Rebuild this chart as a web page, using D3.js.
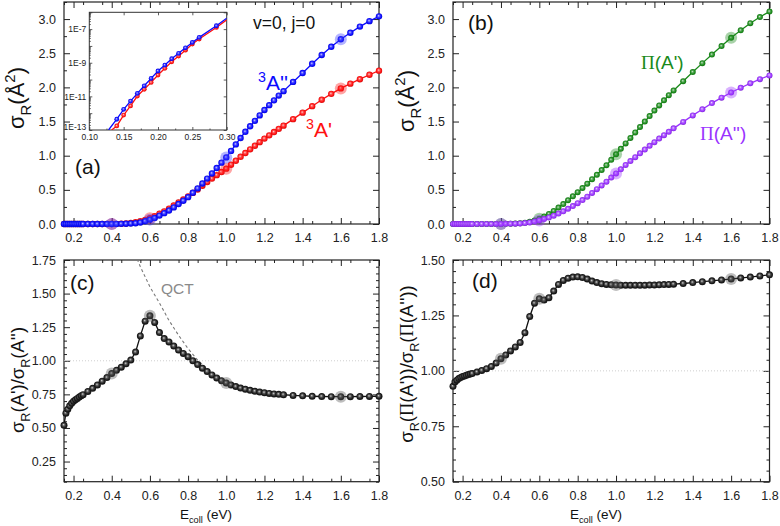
<!DOCTYPE html>
<html><head><meta charset="utf-8">
<script src="https://cdn.jsdelivr.net/npm/d3@7"></script>
<style>
body{margin:0;background:#fff}
svg{display:block}
text{font-family:Arial,"Liberation Sans",sans-serif}
</style>
</head><body>
<svg id="c" width="780" height="526"></svg>
<script>
// ---------------- data ----------------
const energy = [0.15,0.16,0.17,0.18,0.19,0.20,0.21,0.22,0.23,0.24,0.25,
  0.275,0.30,0.325,0.35,0.375,
  0.40,0.425,0.45,0.475, 0.50,0.525,0.55,0.575, 0.60,0.625,0.65,0.675,
  0.70,0.725,0.75,0.775, 0.80,0.825,0.85,0.875, 0.90,0.925,0.95,0.975,
  1.00,1.025,1.05,1.075, 1.10,1.125,1.15,1.175, 1.20,1.225,1.25,1.275,
  1.30,
  1.35,1.40,1.45,1.50,1.55,1.60,1.65,1.70,1.75,1.80];

// (a) 3A'' (blue)
const sigma3App = [0,0,0,0,0,0,0,0,0,0,0, 0,0,0,0,0,
  0.0005,0.001,0.002,0.004, 0.007,0.012,0.022,0.04, 0.064,0.089,0.123,0.159,
  0.197,0.243,0.292,0.341, 0.393,0.457,0.521,0.593, 0.665,0.74,0.82,0.898,
  0.975,1.07,1.165,1.26, 1.35,1.43,1.51,1.59, 1.67,1.74,1.81,1.88,
  1.945,
  2.08,2.21,2.345,2.475,2.595,2.705,2.80,2.89,2.97,3.04];
// (a) 3A' (red)
const sigma3Ap = [0,0,0,0,0,0,0,0,0,0,0, 0,0,0,0,0,
  0.001,0.002,0.004,0.008, 0.015,0.025,0.04,0.06, 0.085,0.115,0.15,0.185,
  0.225,0.27,0.315,0.36, 0.405,0.455,0.505,0.56, 0.615,0.665,0.715,0.762,
  0.81,0.868,0.926,0.984, 1.04,1.093,1.146,1.198, 1.25,1.298,1.346,1.393,
  1.44,
  1.535,1.63,1.725,1.82,1.905,1.985,2.055,2.12,2.185,2.245];
// (b) Pi(A') (green)
const sigmaPiAp = [0,0,0,0,0,0,0,0,0,0,0, 0,0,0,0,0,
  0.001,0.002,0.004,0.007, 0.012,0.02,0.033,0.052, 0.078,0.11,0.148,0.192,
  0.24,0.292,0.347,0.405, 0.465,0.527,0.59,0.655, 0.72,0.79,0.86,0.94,
  1.02,1.10,1.18,1.26, 1.34,1.42,1.50,1.58, 1.66,1.735,1.81,1.885,
  1.955,
  2.09,2.225,2.355,2.48,2.605,2.725,2.835,2.94,3.03,3.11];
// (b) Pi(A'') (purple)
const sigmaPiApp = [0,0,0,0,0,0,0,0,0,0,0, 0,0,0,0,0,
  0.001,0.002,0.003,0.005, 0.008,0.013,0.022,0.035, 0.052,0.072,0.095,0.122,
  0.152,0.185,0.222,0.262, 0.305,0.35,0.40,0.455, 0.51,0.565,0.62,0.68,
  0.74,0.80,0.865,0.922, 0.978,1.035,1.09,1.145, 1.198,1.25,1.30,1.35,
  1.40,
  1.495,1.59,1.68,1.77,1.85,1.925,1.995,2.06,2.12,2.175];
// (c) ratio A'/A''
const ratioA = [0.52,0.61,0.64,0.665,0.683,0.698,0.71,0.72,0.73,0.74,0.748,
  0.772,0.795,0.82,0.848,0.875,
  0.905,0.93,0.952,0.977, 1.005,1.065,1.185,1.295, 1.335,1.285,1.21,1.165,
  1.14,1.11,1.08,1.055, 1.03,1.0,0.972,0.945, 0.92,0.895,0.872,0.852,
  0.835,0.82,0.808,0.797, 0.788,0.78,0.773,0.767, 0.762,0.757,0.753,0.75,
  0.747,
  0.742,0.739,0.736,0.734,0.733,0.733,0.733,0.734,0.735,0.736];
// (d) ratio Pi(A')/Pi(A'')
const ratioPi = [0.93,0.95,0.958,0.965,0.97,0.974,0.977,0.98,0.983,0.986,0.988,
  0.995,1.002,1.01,1.02,1.035,
  1.055,1.072,1.09,1.108, 1.128,1.172,1.245,1.305, 1.325,1.32,1.33,1.36,
  1.39,1.408,1.418,1.423, 1.424,1.421,1.414,1.405, 1.398,1.393,1.39,1.388,
  1.387,1.386,1.386,1.386, 1.386,1.386,1.386,1.387, 1.387,1.388,1.389,1.39,
  1.391,
  1.394,1.398,1.402,1.406,1.41,1.414,1.419,1.423,1.428,1.433];
// highlighted energies
const highlightE = [0.4, 0.6, 1.0, 1.6];
// QCT ratio (c)
const qctEnergy = [0.50,0.55,0.60,0.65,0.70,0.75,0.80,0.85,0.90,0.95];
const qctRatio  = [1.87,1.70,1.55,1.43,1.30,1.19,1.09,1.005,0.94,0.885];
// inset (log10 of cross section); first and last entries are line ends
const insetE3App   = [0.128,0.14,0.15,0.16,0.17,0.18,0.19,0.20,0.21,0.22,0.23,0.24,0.25,0.26,0.285,0.30];
const insetLog3App = [-13,-12.36,-11.77,-11.28,-10.82,-10.37,-9.93,-9.49,-9.14,-8.76,-8.44,-8.11,-7.79,-7.49,-6.80,-6.35];
const insetE3Ap    = [0.1325,0.14,0.15,0.16,0.17,0.18,0.19,0.20,0.21,0.22,0.23,0.24,0.25,0.26,0.285,0.30];
const insetLog3Ap  = [-13,-12.76,-12.11,-11.57,-10.98,-10.58,-10.17,-9.73,-9.33,-8.94,-8.60,-8.25,-7.89,-7.59,-6.90,-6.45];
// tick values
const xMajorTicks = [0.2,0.4,0.6,0.8,1.0,1.2,1.4,1.6,1.8];
const yTicksAB = [0,0.5,1.0,1.5,2.0,2.5,3.0];
const yTicksC = [0.25,0.50,0.75,1.00,1.25,1.50,1.75];
const yTicksD = [0.50,0.75,1.00,1.25,1.50];
const insetXTicks = [0.10,0.15,0.20,0.25,0.30];
const insetYLabelExp = [-13,-11,-9,-7];

// ---------------- drawing ----------------
const svg = d3.select('#c');
const defs = svg.append('defs');
const FONT = 'Arial, "Liberation Sans", sans-serif';

function sphere(id, base) {
  const g = defs.append('radialGradient').attr('id', id)
    .attr('cx','50%').attr('cy','50%').attr('r','55%').attr('fx','42%').attr('fy','40%');
  g.append('stop').attr('offset','0%').attr('stop-color', d3.interpolateRgb(base,'#ffffff')(0.8));
  g.append('stop').attr('offset','35%').attr('stop-color', d3.interpolateRgb(base,'#ffffff')(0.25));
  g.append('stop').attr('offset','70%').attr('stop-color', base);
  g.append('stop').attr('offset','100%').attr('stop-color', d3.color(base).darker(0.7).formatHex());
}
const BLUE='#0a0aff', RED='#ff1010', GREEN='#1a8a1a', PURPLE='#9a33ff', BLACK='#111111';
sphere('gBlue', BLUE); sphere('gRed', RED); sphere('gGreen', GREEN); sphere('gPurple', PURPLE);
sphere('gBlack', '#1a1a1a');

function rich(sel, parts, fs) {
  let off = 0;
  parts.forEach(([t, kind, fam]) => {
    const target = kind === 'sub' ? fs*0.3 : kind === 'sup' ? -fs*0.4 : 0;
    const ts = sel.append('tspan').text(t).attr('dy', target - off);
    if (kind) ts.attr('font-size', fs*0.68);
    if (fam) ts.attr('font-family', fam);
    off = target;
  });
}

const panels = {
  a:{x0:64, x1:379, y0:2, y1:224, yd:[0,3.25], yt:yTicksAB, ym:0.25, yf:'.1f', xm:0.1},
  b:{x0:453, x1:769.5, y0:2, y1:224, yd:[0,3.25], yt:yTicksAB, ym:0.25, yf:'.1f', xm:0.1},
  c:{x0:64, x1:379, y0:260, y1:481.7, yd:[0.1,1.75], yt:yTicksC, ym:0.05, yf:'.2f', xm:0.1},
  d:{x0:453, x1:769.5, y0:260, y1:481.7, yd:[0.5,1.5], yt:yTicksD, ym:0.05, yf:'.2f', xm:0.05}
};

function buildPanel(key) {
  const p = panels[key];
  const x = d3.scaleLinear().domain([0.15,1.8]).range([p.x0,p.x1]);
  const y = d3.scaleLinear().domain(p.yd).range([p.y1,p.y0]);
  const g = svg.append('g');
  defs.append('clipPath').attr('id','clip'+key).append('rect')
    .attr('x',p.x0).attr('y',p.y0).attr('width',p.x1-p.x0).attr('height',p.y1-p.y0);
  const eps = 1e-6;
  const xMinor = d3.range(0.15, 1.8+eps, p.xm).map(v=>+v.toFixed(3))
    .filter(v => !xMajorTicks.some(m=>Math.abs(m-v)<eps));
  const yMinor = d3.range(p.yd[0], p.yd[1]+eps, p.ym).map(v=>+v.toFixed(3))
    .filter(v => !p.yt.some(m=>Math.abs(m-v)<eps));
  const axes = [
    [d3.axisBottom(x).tickValues(xMajorTicks).tickFormat(d3.format('.1f')).tickSizeInner(-6).tickSizeOuter(0).tickPadding(9), `translate(0,${p.y1})`],
    [d3.axisBottom(x).tickValues(xMinor).tickFormat('').tickSizeInner(-3).tickSizeOuter(0), `translate(0,${p.y1})`],
    [d3.axisTop(x).tickValues(xMajorTicks).tickFormat('').tickSizeInner(-6).tickSizeOuter(0), `translate(0,${p.y0})`],
    [d3.axisTop(x).tickValues(xMinor).tickFormat('').tickSizeInner(-3).tickSizeOuter(0), `translate(0,${p.y0})`],
    [d3.axisLeft(y).tickValues(p.yt).tickFormat(d3.format(p.yf)).tickSizeInner(-6).tickSizeOuter(0).tickPadding(8), `translate(${p.x0},0)`],
    [d3.axisLeft(y).tickValues(yMinor).tickFormat('').tickSizeInner(-3).tickSizeOuter(0), `translate(${p.x0},0)`],
    [d3.axisRight(y).tickValues(p.yt).tickFormat('').tickSizeInner(-6).tickSizeOuter(0), `translate(${p.x1},0)`],
    [d3.axisRight(y).tickValues(yMinor).tickFormat('').tickSizeInner(-3).tickSizeOuter(0), `translate(${p.x1},0)`]
  ];
  axes.forEach(([ax, tr]) => {
    const a = g.append('g').attr('transform', tr).call(ax);
    a.select('.domain').remove();
    a.selectAll('line').attr('stroke','#222').attr('stroke-width',1);
    a.selectAll('text').attr('font-family',FONT).attr('font-size',12.5).attr('fill','#222');
  });
  g.append('rect').attr('x',p.x0).attr('y',p.y0).attr('width',p.x1-p.x0).attr('height',p.y1-p.y0)
    .attr('fill','none').attr('stroke','#222').attr('stroke-width',1.2);
  return {g, x, y, p};
}

function drawSeries(P, xs, ys, color, grad, r, hlColor) {
  const pts = xs.map((e,i)=>[e, ys[i]]);
  const line = d3.line().x(d=>P.x(d[0])).y(d=>P.y(d[1]));
  P.g.append('path').datum(pts).attr('d', line).attr('fill','none')
    .attr('stroke', color).attr('stroke-width', 1.3);
  P.g.append('g').selectAll('circle').data(pts).join('circle')
    .attr('cx', d=>P.x(d[0])).attr('cy', d=>P.y(d[1])).attr('r', r)
    .attr('fill', `url(#${grad})`);
  const hl = pts.filter(d => highlightE.some(h=>Math.abs(h-d[0])<1e-6));
  P.g.append('g').selectAll('circle').data(hl).join('circle')
    .attr('cx', d=>P.x(d[0])).attr('cy', d=>P.y(d[1])).attr('r', 6)
    .attr('fill', hlColor).attr('fill-opacity', 0.38);
}

// ----- panel a -----
const A = buildPanel('a');
drawSeries(A, energy, sigma3Ap, RED, 'gRed', 3.2, RED);
drawSeries(A, energy, sigma3App, BLUE, 'gBlue', 3.2, '#3a3aff');

// ----- panel b -----
const B = buildPanel('b');
drawSeries(B, energy, sigmaPiAp, GREEN, 'gGreen', 3.0, GREEN);
drawSeries(B, energy, sigmaPiApp, PURPLE, 'gPurple', 3.0, PURPLE);

// ----- panel c -----
const C = buildPanel('c');
C.g.append('line').attr('x1',C.p.x0).attr('x2',C.p.x1).attr('y1',C.y(1)).attr('y2',C.y(1))
  .attr('stroke','#cfcfcf').attr('stroke-dasharray','1,2').attr('stroke-width',1);
C.g.append('path').datum(qctEnergy.map((e,i)=>[e,qctRatio[i]]))
  .attr('clip-path','url(#clipc)')
  .attr('d', d3.line().x(d=>C.x(d[0])).y(d=>C.y(d[1])))
  .attr('fill','none').attr('stroke','#7a7a7a').attr('stroke-width',1.1).attr('stroke-dasharray','3,2.5');
drawSeries(C, energy, ratioA, BLACK, 'gBlack', 3.5, '#555');

// ----- panel d -----
const D = buildPanel('d');
D.g.append('line').attr('x1',D.p.x0).attr('x2',D.p.x1).attr('y1',D.y(1)).attr('y2',D.y(1))
  .attr('stroke','#cfcfcf').attr('stroke-dasharray','1,2').attr('stroke-width',1);
drawSeries(D, energy, ratioPi, BLACK, 'gBlack', 3.5, '#555');

// ----- inset in panel a -----
(function(){
  const bx0=89.3, bx1=226.7, by0=12.3, by1=130;
  const xi = d3.scaleLinear().domain([0.10,0.30]).range([bx0,bx1]);
  const yi = d3.scaleLog().domain([1e-13,1e-6]).range([by1,by0]);
  const g = svg.append('g');
  defs.append('clipPath').attr('id','clipInset').append('rect')
    .attr('x',bx0).attr('y',by0).attr('width',bx1-bx0).attr('height',by1-by0);
  g.append('rect').attr('x',bx0).attr('y',by0).attr('width',bx1-bx0).attr('height',by1-by0)
    .attr('fill','#fff');
  const dec = d3.range(-13,-5).map(e=>Math.pow(10,e));
  const minorLog = [];
  d3.range(-13,-6).forEach(e=>{ for(let k=2;k<10;k++) minorLog.push(k*Math.pow(10,e)); });
  const xMin = d3.range(0.125,0.3,0.05).map(v=>+v.toFixed(3));
  const ax = [
    [d3.axisBottom(xi).tickValues(insetXTicks).tickFormat(d3.format('.2f')).tickSizeInner(-3).tickSizeOuter(0).tickPadding(3.5), `translate(0,${by1})`],
    [d3.axisBottom(xi).tickValues(xMin).tickFormat('').tickSizeInner(-1.5).tickSizeOuter(0), `translate(0,${by1})`],
    [d3.axisTop(xi).tickValues(insetXTicks).tickFormat('').tickSizeInner(-3).tickSizeOuter(0), `translate(0,${by0})`],
    [d3.axisLeft(yi).tickValues(dec).tickFormat(d=>{const e=Math.round(Math.log10(d)); return insetYLabelExp.includes(e)?('1E'+e):'';}).tickSizeInner(-3).tickSizeOuter(0).tickPadding(3), `translate(${bx0},0)`],
    [d3.axisLeft(yi).tickValues(minorLog).tickFormat('').tickSizeInner(-1.5).tickSizeOuter(0), `translate(${bx0},0)`],
    [d3.axisRight(yi).tickValues(dec).tickFormat('').tickSizeInner(-3).tickSizeOuter(0), `translate(${bx1},0)`]
  ];
  ax.forEach(([a,tr], i)=>{
    const s = g.append('g').attr('transform',tr).call(a);
    s.select('.domain').remove();
    s.selectAll('line').attr('stroke','#333').attr('stroke-width',0.8);
    s.selectAll('text').attr('font-family',FONT).attr('font-size',8.5).attr('fill','#222');
    if (i === 3) s.selectAll('text').filter(d=>Math.round(Math.log10(d))===-13).attr('dy','-0.05em');
  });
  g.append('rect').attr('x',bx0).attr('y',by0).attr('width',bx1-bx0).attr('height',by1-by0)
    .attr('fill','none').attr('stroke','#333').attr('stroke-width',1);
  function ser(xs, ls, color, grad) {
    const pts = xs.map((e,i)=>[e, Math.pow(10, ls[i])]);
    g.append('path').datum(pts).attr('clip-path','url(#clipInset)')
      .attr('d', d3.line().x(d=>xi(d[0])).y(d=>yi(d[1])))
      .attr('fill','none').attr('stroke',color).attr('stroke-width',1.3);
    g.append('g').selectAll('circle').data(pts.slice(1,-1)).join('circle')
      .attr('cx',d=>xi(d[0])).attr('cy',d=>yi(d[1])).attr('r',2.4).attr('fill',`url(#${grad})`);
  }
  ser(insetE3Ap, insetLog3Ap, RED, 'gRed');
  ser(insetE3App, insetLog3App, BLUE, 'gBlue');
})();

// ----- texts -----
function txt(x, y, s, opt={}) {
  return svg.append('text').attr('x',x).attr('y',y).text(s)
    .attr('font-family',FONT).attr('font-size',opt.fs||14).attr('fill',opt.fill||'#111')
    .attr('text-anchor',opt.anchor||'start');
}
txt(75, 174, '(a)', {fs:21});
txt(468, 30, '(b)', {fs:21});
txt(70, 290, '(c)', {fs:21});
txt(472, 288, '(d)', {fs:21});
txt(253, 29, 'v=0, j=0', {fs:17.5});
txt(161, 294, 'QCT', {fs:15.5, fill:'#8a8a8a'});

function richAt(x, y, parts, fs, fill, rotate, anchor) {
  const t = svg.append('text').attr('font-family',FONT).attr('font-size',fs).attr('fill',fill)
    .attr('text-anchor', anchor||'start');
  if (rotate) t.attr('transform',`translate(${x},${y}) rotate(-90)`);
  else t.attr('x',x).attr('y',y);
  rich(t, parts, fs);
  return t;
}
richAt(258, 90, [['3','sup'],["A''",null]], 21, BLUE);
richAt(306, 137, [['3','sup'],["A'",null]], 21, RED);
const SERIF = '"Liberation Serif","Times New Roman",serif';
richAt(641, 69, [['Π',null,SERIF],["(A')",null]], 19, GREEN);
richAt(700, 140, [['Π',null,SERIF],["(A'')",null]], 19, PURPLE);

// axis titles
richAt(24, 98, [['σ',null],['R','sub'],['(Å',null],['2','sup'],[')',null]], 22, '#111', true, 'middle');
richAt(414, 101, [['σ',null],['R','sub'],['(Å',null],['2','sup'],[')',null]], 22, '#111', true, 'middle');
richAt(24, 380, [['σ',null],['R','sub'],["(A')/σ",null],['R','sub'],["(A'')",null]], 18.5, '#111', true, 'middle');
richAt(413, 364, [['σ',null],['R','sub'],["(",null],['Π',null,SERIF],["(A'))/σ",null],['R','sub'],["(",null],['Π',null,SERIF],["(A''))",null]], 18.5, '#111', true, 'middle');
richAt(206, 519, [['E',null],['coll','sub'],[' (eV)',null]], 13.5, '#111', false, 'middle');
richAt(596, 519, [['E',null],['coll','sub'],[' (eV)',null]], 13.5, '#111', false, 'middle');
</script>
</body></html>
